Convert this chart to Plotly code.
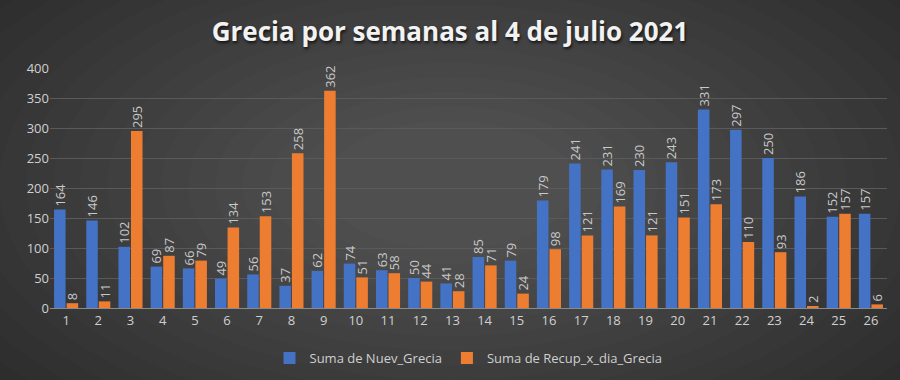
import plotly.graph_objects as go

semanas = [str(i) for i in range(1, 27)]
nuev_grecia = [164, 146, 102, 69, 66, 49, 56, 37, 62, 74, 63, 50, 41, 85, 79, 179, 241, 231, 230, 243, 331, 297, 250, 186, 152, 157]
recup_grecia = [8, 11, 295, 87, 79, 134, 153, 258, 362, 51, 58, 44, 28, 71, 24, 98, 121, 169, 121, 151, 173, 110, 93, 2, 157, 6]
y_ticks = [0, 50, 100, 150, 200, 250, 300, 350, 400]

W, H = 900, 380
ML, MR, MT, MB = 50, 13, 68, 72
PW, PH = W - ML - MR, H - MT - MB

label_font = dict(family="Open Sans, Noto Sans, sans-serif", size=13, color="#c9c9c9")

fig = go.Figure()
fig.add_trace(go.Bar(
    x=semanas, y=nuev_grecia, name="Suma de Nuev_Grecia",
    marker=dict(color="#4472C4", line=dict(width=0)),
    text=nuev_grecia, textposition="outside", textangle=-90, constraintext="none",
    textfont=label_font, cliponaxis=False,
))
fig.add_trace(go.Bar(
    x=semanas, y=recup_grecia, name="Suma de Recup_x_dia_Grecia",
    marker=dict(color="#ED7D31", line=dict(width=0)),
    text=recup_grecia, textposition="outside", textangle=-90, constraintext="none",
    textfont=label_font, cliponaxis=False,
))

# radial vignette background (lighter centre, darker edges)
shapes = []
cx, cy = 450, 185
steps = 20
for i in range(steps):
    rx = 640 - i * 27
    ry = 340 - i * 14.5
    x0 = (cx - rx - ML) / PW
    x1 = (cx + rx - ML) / PW
    y0 = (H - MB - (cy + ry)) / PH
    y1 = (H - MB - (cy - ry)) / PH
    shapes.append(dict(type="circle", xref="paper", yref="paper", x0=x0, x1=x1, y0=y0, y1=y1,
                       fillcolor="rgba(255,255,255,0.011)", line=dict(width=0), layer="below"))

fig.update_layout(
    width=W, height=H,
    paper_bgcolor="#272727", plot_bgcolor="rgba(0,0,0,0)",
    margin=dict(l=ML, r=MR, t=MT, b=MB, autoexpand=False),
    barmode="group", bargap=0.22, bargroupgap=0.08,
    shapes=shapes,
    title=dict(text="<b>Grecia por semanas al 4 de julio 2021</b>",
               x=0.5, xanchor="center", y=0.915, yanchor="middle",
               font=dict(family="Open Sans, Noto Sans, sans-serif", size=26, color="#f2f2f2",
                         shadow="1px 2px 3px rgba(0,0,0,0.7)")),
    font=dict(family="Open Sans, Noto Sans, sans-serif", color="#d0d0d0"),
    legend=dict(orientation="h", x=0.5, xanchor="center", yref="container", y=0.058, yanchor="middle",
                font=dict(size=13, color="#cfcfcf"), bgcolor="rgba(0,0,0,0)",
                itemwidth=30, traceorder="normal"),
    showlegend=True,
)
fig.update_xaxes(type="category", showgrid=False, showline=True, linecolor="#8a8a8a", linewidth=1,
                 ticks="", tickfont=dict(size=13, color="#d0d0d0"), automargin=False)
fig.update_yaxes(range=[0, 400], tickvals=y_ticks, showgrid=True, gridcolor="#5a5a5a", gridwidth=1,
                 zeroline=False, showline=False, ticks="", tickfont=dict(size=13, color="#d0d0d0"),
                 automargin=False)

fig.write_html("out.html", config={"displayModeBar": False},
               post_script="document.body.style.margin='0';document.body.style.background='#272727';")
